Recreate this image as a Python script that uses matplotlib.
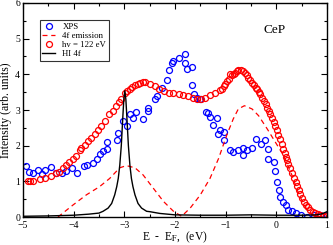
import matplotlib
matplotlib.use("Agg")
import matplotlib.pyplot as plt
from matplotlib.ticker import MultipleLocator

plt.rcParams['font.family'] = ['Liberation Serif', 'DejaVu Serif']
plt.rcParams['mathtext.fontset'] = 'stix'

# XPS (blue circles)
xps_x = [-4.95, -4.89, -4.81, -4.71, -4.57, -4.62, -4.44, -4.34, -4.24, -4.15, -4.03, -3.93,
         -3.80, -3.74, -3.62, -3.54, -3.49, -3.43, -3.34, -3.34, -3.15, -3.12, -3.02, -2.94,
         -2.89, -2.83, -2.76, -2.63, -2.53, -2.53, -2.40, -2.36, -2.26, -2.16, -2.11, -2.05,
         -2.03, -1.93, -1.80, -1.80, -1.77, -1.67, -1.67, -1.62, -1.57, -1.50, -1.39, -1.34,
         -1.31, -1.25, -1.17, -1.12, -1.16, -1.04, -1.03, -0.91, -0.85, -0.75, -0.66, -0.66,
         -0.57, -0.48, -0.40, -0.30, -0.22, -0.17, -0.16, -0.05, -0.02, 0.01, 0.05, 0.08,
         0.14, 0.20, 0.24, 0.31, 0.38, 0.48, 0.61, 0.74, 0.87, 1.00]
xps_y = [1.44, 1.27, 1.22, 1.31, 1.31, 1.20, 1.39, 1.22, 1.22, 1.29, 1.36, 1.24,
         1.43, 1.45, 1.52, 1.64, 1.78, 1.84, 1.92, 2.10, 2.17, 2.36, 2.68, 2.56,
         2.89, 2.77, 2.95, 2.75, 3.07, 2.98, 3.31, 3.40, 3.63, 3.84, 4.11, 4.32,
         4.37, 4.46, 4.56, 4.31, 4.14, 4.21, 3.69, 3.44, 3.35, 3.31, 2.94, 2.92,
         2.80, 2.58, 2.77, 2.45, 2.33, 2.38, 2.15, 1.87, 1.82, 1.87, 1.94, 1.75,
         1.87, 1.94, 2.18, 2.06, 2.17, 1.92, 1.64, 1.53, 1.29, 0.97, 0.76, 0.57,
         0.42, 0.34, 0.20, 0.16, 0.11, 0.06, 0.00, 0.05, 0.05, 0.06]

# hv = 122 eV (red circles)
hv_x = [-4.90, -4.87, -4.81, -4.67, -4.57, -4.44, -4.34, -4.29, -4.22, -4.15, -4.09, -4.01,
        -3.96, -3.88, -3.85, -3.78, -3.72, -3.65, -3.58, -3.52, -3.47, -3.39, -3.30, -3.23,
        -3.17, -3.10, -3.06, -2.99, -2.94, -2.89, -2.84, -2.79, -2.74, -2.69, -2.64, -2.59,
        -2.50, -2.40, -2.31, -2.22, -2.11, -2.03, -1.93, -1.84, -1.74, -1.65, -1.57, -1.49,
        -1.41, -1.31, -1.21, -1.11, -1.08, -1.04, -1.01, -0.98, -0.94, -0.91, -0.88, -0.84,
        -0.81, -0.78, -0.75, -0.70, -0.65, -0.61, -0.58, -0.55, -0.51, -0.48, -0.45, -0.41,
        -0.38, -0.35, -0.32, -0.28, -0.25, -0.21, -0.18, -0.15, -0.12, -0.08, -0.05, -0.02,
        0.01, 0.04, 0.08, 0.11, 0.14, 0.17, 0.20, 0.22, 0.24, 0.27, 0.31, 0.34,
        0.38, 0.41, 0.44, 0.47, 0.51, 0.55, 0.59, 0.63, 0.67, 0.72, 0.77, 0.82,
        0.87, 0.93, 0.99]
hv_y = [1.02, 1.02, 1.02, 1.06, 1.08, 1.16, 1.22, 1.27, 1.36, 1.47, 1.53, 1.64,
        1.71, 1.89, 1.94, 2.03, 2.12, 2.21, 2.33, 2.45, 2.54, 2.70, 2.89, 2.98,
        3.12, 3.23, 3.32, 3.47, 3.52, 3.60, 3.64, 3.69, 3.73, 3.77, 3.78, 3.79,
        3.72, 3.66, 3.60, 3.54, 3.49, 3.47, 3.44, 3.42, 3.38, 3.35, 3.32, 3.31,
        3.35, 3.42, 3.47, 3.56, 3.58, 3.67, 3.72, 3.81, 3.86, 4.00, 3.97, 4.02,
        4.05, 4.08, 4.11, 4.12, 4.09, 4.03, 3.97, 3.91, 3.84, 3.77, 3.69, 3.63,
        3.58, 3.51, 3.44, 3.35, 3.26, 3.16, 3.07, 2.98, 2.89, 2.77, 2.66, 2.55,
        2.43, 2.31, 2.19, 2.05, 1.92, 1.80, 1.69, 1.60, 1.50, 1.36, 1.22, 1.10,
        0.99, 0.88, 0.76, 0.64, 0.53, 0.43, 0.34, 0.27, 0.20, 0.15, 0.11, 0.08,
        0.06, 0.04, 0.02]

# 4f emission (red dashed)
em_x = [-4.31, -4.01, -3.75, -3.49, -3.29, -3.09, -2.96, -2.79, -2.63, -2.43, -2.23, -2.03,
        -1.87, -1.70, -1.50, -1.31, -1.14, -0.98, -0.85, -0.75, -0.63, -0.48, -0.35, -0.18,
        -0.02, 0.14, 0.30, 0.45, 0.60, 0.75, 1.00]
em_y = [0.00, 0.34, 0.62, 0.85, 1.08, 1.38, 1.44, 1.38, 1.18, 0.81, 0.44, 0.16,
        0.02, 0.25, 0.62, 1.08, 1.64, 2.29, 2.75, 3.03, 3.12, 3.03, 2.84, 2.47,
        2.10, 1.73, 1.20, 0.62, 0.20, 0.03, 0.00]

# HI 4f (black line)
hi_x = [-5.00, -4.50, -4.00, -3.70, -3.50, -3.42, -3.32, -3.25, -3.19, -3.15, -3.12, -3.09,
        -3.06, -3.03, -3.01, -2.99, -2.97, -2.95, -2.92, -2.89, -2.86, -2.83, -2.79, -2.73,
        -2.66, -2.56, -2.50, -2.30, -2.00, -1.50, -1.00, -0.50, 0.00, 0.50, 0.80, 0.90, 1.00]
hi_y = [0.02, 0.03, 0.05, 0.08, 0.11, 0.16, 0.25, 0.38, 0.62, 0.85, 1.08, 1.45,
        2.00, 2.80, 3.30, 3.54, 3.30, 2.80, 2.00, 1.45, 1.08, 0.85, 0.62, 0.38,
        0.25, 0.16, 0.15, 0.10, 0.06, 0.05, 0.05, 0.06, 0.05, 0.05, 0.06, 0.09, 0.15]

fig = plt.figure(figsize=(3.33, 2.45), dpi=100)
ax = fig.add_axes([23/333, 28/245, 304/333, 214/245])

ax.plot(xps_x, xps_y, 'o', ls='none', mfc='none', mec='#0000ff', ms=4.3, mew=0.9, label='XPS')
ax.plot(em_x, em_y, '--', color='#ff0000', lw=0.9, dashes=(4, 3), label='4f emission')
ax.plot(hv_x, hv_y, 'o', ls='none', mfc='none', mec='#ff0000', ms=4.3, mew=0.9, label='hv = 122 eV')
ax.plot(hi_x, hi_y, '-', color='black', lw=1.0, label='HI 4f')

ax.set_xlim(-5, 1)
ax.set_ylim(0, 6)
ax.xaxis.set_major_locator(MultipleLocator(1))
ax.xaxis.set_minor_locator(MultipleLocator(0.5))
ax.yaxis.set_major_locator(MultipleLocator(1))
ax.yaxis.set_minor_locator(MultipleLocator(0.5))
ax.tick_params(which='both', direction='in', top=True, right=True, labelsize=7)
ax.tick_params(axis='x', pad=3)
ax.tick_params(axis='y', pad=2)
ax.tick_params(which='major', length=4, width=0.8)
ax.tick_params(which='minor', length=2.5, width=0.8)
for s in ax.spines.values():
    s.set_linewidth(1.0)

ax.set_xlabel(r'E  -  E$_\mathrm{F}$,  (eV)', fontsize=8.3, labelpad=-0.5)
ax.set_ylabel('Intensity (arb. units)', fontsize=8.5, labelpad=2)

ax.text(-0.25, 5.15, 'CeP', fontsize=9.5)

leg = ax.legend(loc='upper left', bbox_to_anchor=(0.055, 0.92), fontsize=6.3, frameon=True,
                fancybox=False, edgecolor='black', handlelength=1.5, handletextpad=0.8,
                borderpad=0.3, labelspacing=0.12, borderaxespad=0)
leg.get_frame().set_linewidth(0.8)

fig.savefig('out.png', dpi=100)
